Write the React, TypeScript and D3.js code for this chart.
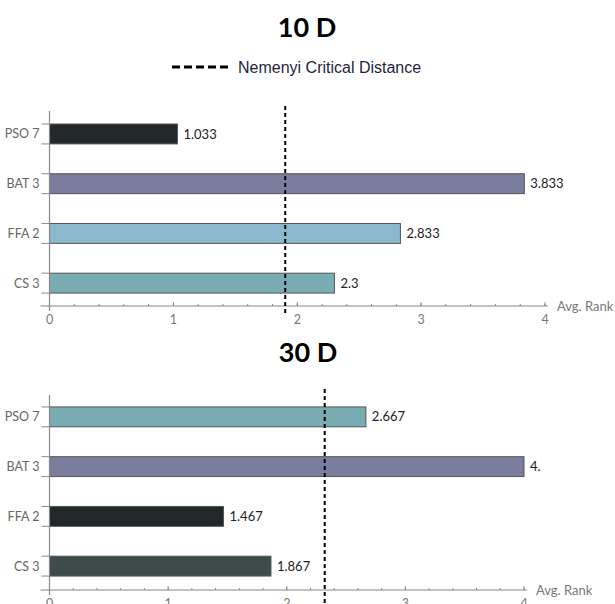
import React from "react";
import * as d3 from "d3";

const categories = ["PSO 7", "BAT 3", "FFA 2", "CS 3"];
const values10D = [1.033, 3.833, 2.833, 2.3];
const labels10D = ["1.033", "3.833", "2.833", "2.3"];
const colors10D = ["#222829", "#7a7d9e", "#8ab8cc", "#7aacb4"];
const cd10D = 1.903;

const values30D = [2.667, 4.0, 1.467, 1.867];
const labels30D = ["2.667", "4.", "1.467", "1.867"];
const colors30D = ["#7aacb4", "#7a7d9e", "#222829", "#3d4b4b"];
const cd30D = 2.32;

const majorTicks = [0, 1, 2, 3, 4];
const minorTicks = d3.range(0, 4.001, 0.2);

type PanelProps = {
  values: number[];
  labels: string[];
  colors: string[];
  cd: number;
  xRange: [number, number];
  bandRange: [number, number];
  axisY: number;
  yAxisTop: number;
  cdTop: number;
  cdBottom: number;
};

function Panel(p: PanelProps) {
  const x = d3.scaleLinear().domain([0, 4]).range(p.xRange);
  const y = d3
    .scaleBand<string>()
    .domain(categories)
    .range(p.bandRange)
    .paddingInner(0.6)
    .paddingOuter(0.3);
  const bh = y.bandwidth();
  const x0 = x(0);
  return (
    <g>
      {/* bars */}
      {categories.map((c, i) => (
        <g key={c}>
          <rect
            x={x0}
            y={y(c)!}
            width={x(p.values[i]) - x0}
            height={bh}
            fill={p.colors[i]}
            stroke="#555"
            strokeWidth={1}
          />
          <text
            x={x(p.values[i]) + 6}
            y={y(c)! + bh / 2}
            dy="0.35em"
            fontFamily="Lato, 'Open Sans', sans-serif"
            fontSize={13}
            fill="#222"
          >
            {p.labels[i]}
          </text>
          <text
            x={x0 - 10}
            y={y(c)! + bh / 2}
            dy="0.35em"
            textAnchor="end"
            fontFamily="Lato, 'Open Sans', sans-serif"
            fontSize={12.5}
            fill="#666"
          >
            {c}
          </text>
          <line x1={x0 - 8} x2={x0} y1={y(c)!} y2={y(c)!} stroke="#888" strokeWidth={1} />
          <line x1={x0 - 8} x2={x0} y1={y(c)! + bh} y2={y(c)! + bh} stroke="#888" strokeWidth={1} />
        </g>
      ))}
      {/* y axis */}
      <line x1={x0} x2={x0} y1={p.yAxisTop} y2={p.axisY + 5} stroke="#888" strokeWidth={1.2} />
      {/* x axis */}
      <line x1={x0 - 9} x2={x(4) + 3} y1={p.axisY} y2={p.axisY} stroke="#888" strokeWidth={1.2} />
      {minorTicks.map((t) => (
        <line key={"m" + t} x1={x(t)} x2={x(t)} y1={p.axisY - 2} y2={p.axisY} stroke="#888" strokeWidth={1} />
      ))}
      {majorTicks.map((t) => (
        <g key={"M" + t}>
          <line x1={x(t)} x2={x(t)} y1={p.axisY - 4} y2={p.axisY} stroke="#888" strokeWidth={1} />
          <text
            x={x(t)}
            y={p.axisY + 18}
            textAnchor="middle"
            fontFamily="Lato, 'Open Sans', sans-serif"
            fontSize={12.5}
            fill="#777"
          >
            {t}
          </text>
        </g>
      ))}
      <text
        x={x(4) + 12}
        y={p.axisY}
        dy="0.35em"
        fontFamily="Lato, 'Open Sans', sans-serif"
        fontSize={13}
        fill="#777"
      >
        Avg. Rank
      </text>
      {/* critical distance */}
      <line
        x1={x(p.cd)}
        x2={x(p.cd)}
        y1={p.cdTop}
        y2={p.cdBottom}
        stroke="#000"
        strokeWidth={2}
        strokeDasharray="4 3"
      />
    </g>
  );
}

export default function App() {
  return (
    <svg
      width={615}
      height={604}
      style={{ position: "absolute", left: 0, top: 0, background: "#fff" }}
    >
      <rect width={615} height={604} fill="#fff" />
      <text
        x={307}
        y={37}
        textAnchor="middle"
        fontFamily="Lato, 'Open Sans', sans-serif"
        fontWeight="bold"
        fontSize={27}
        fill="#000"
      >
        10 D
      </text>
      <line x1={172} x2={228} y1={67} y2={67} stroke="#000" strokeWidth={3} strokeDasharray="8 4" />
      <text
        x={238}
        y={67}
        dy="0.35em"
        fontFamily="'Liberation Sans', Arial, sans-serif"
        fontSize={16}
        fill="#1f1f3a"
      >
        Nemenyi Critical Distance
      </text>
      <Panel
        values={values10D}
        labels={labels10D}
        colors={colors10D}
        cd={cd10D}
        xRange={[49.5, 545]}
        bandRange={[109.1, 308]}
        axisY={306}
        yAxisTop={111}
        cdTop={106}
        cdBottom={316}
      />
      <text
        x={308}
        y={362}
        textAnchor="middle"
        fontFamily="Lato, 'Open Sans', sans-serif"
        fontWeight="bold"
        fontSize={27}
        fill="#000"
      >
        30 D
      </text>
      <Panel
        values={values30D}
        labels={labels30D}
        colors={colors30D}
        cd={cd30D}
        xRange={[49.5, 524]}
        bandRange={[392, 591]}
        axisY={590}
        yAxisTop={395}
        cdTop={389}
        cdBottom={604}
      />
    </svg>
  );
}
